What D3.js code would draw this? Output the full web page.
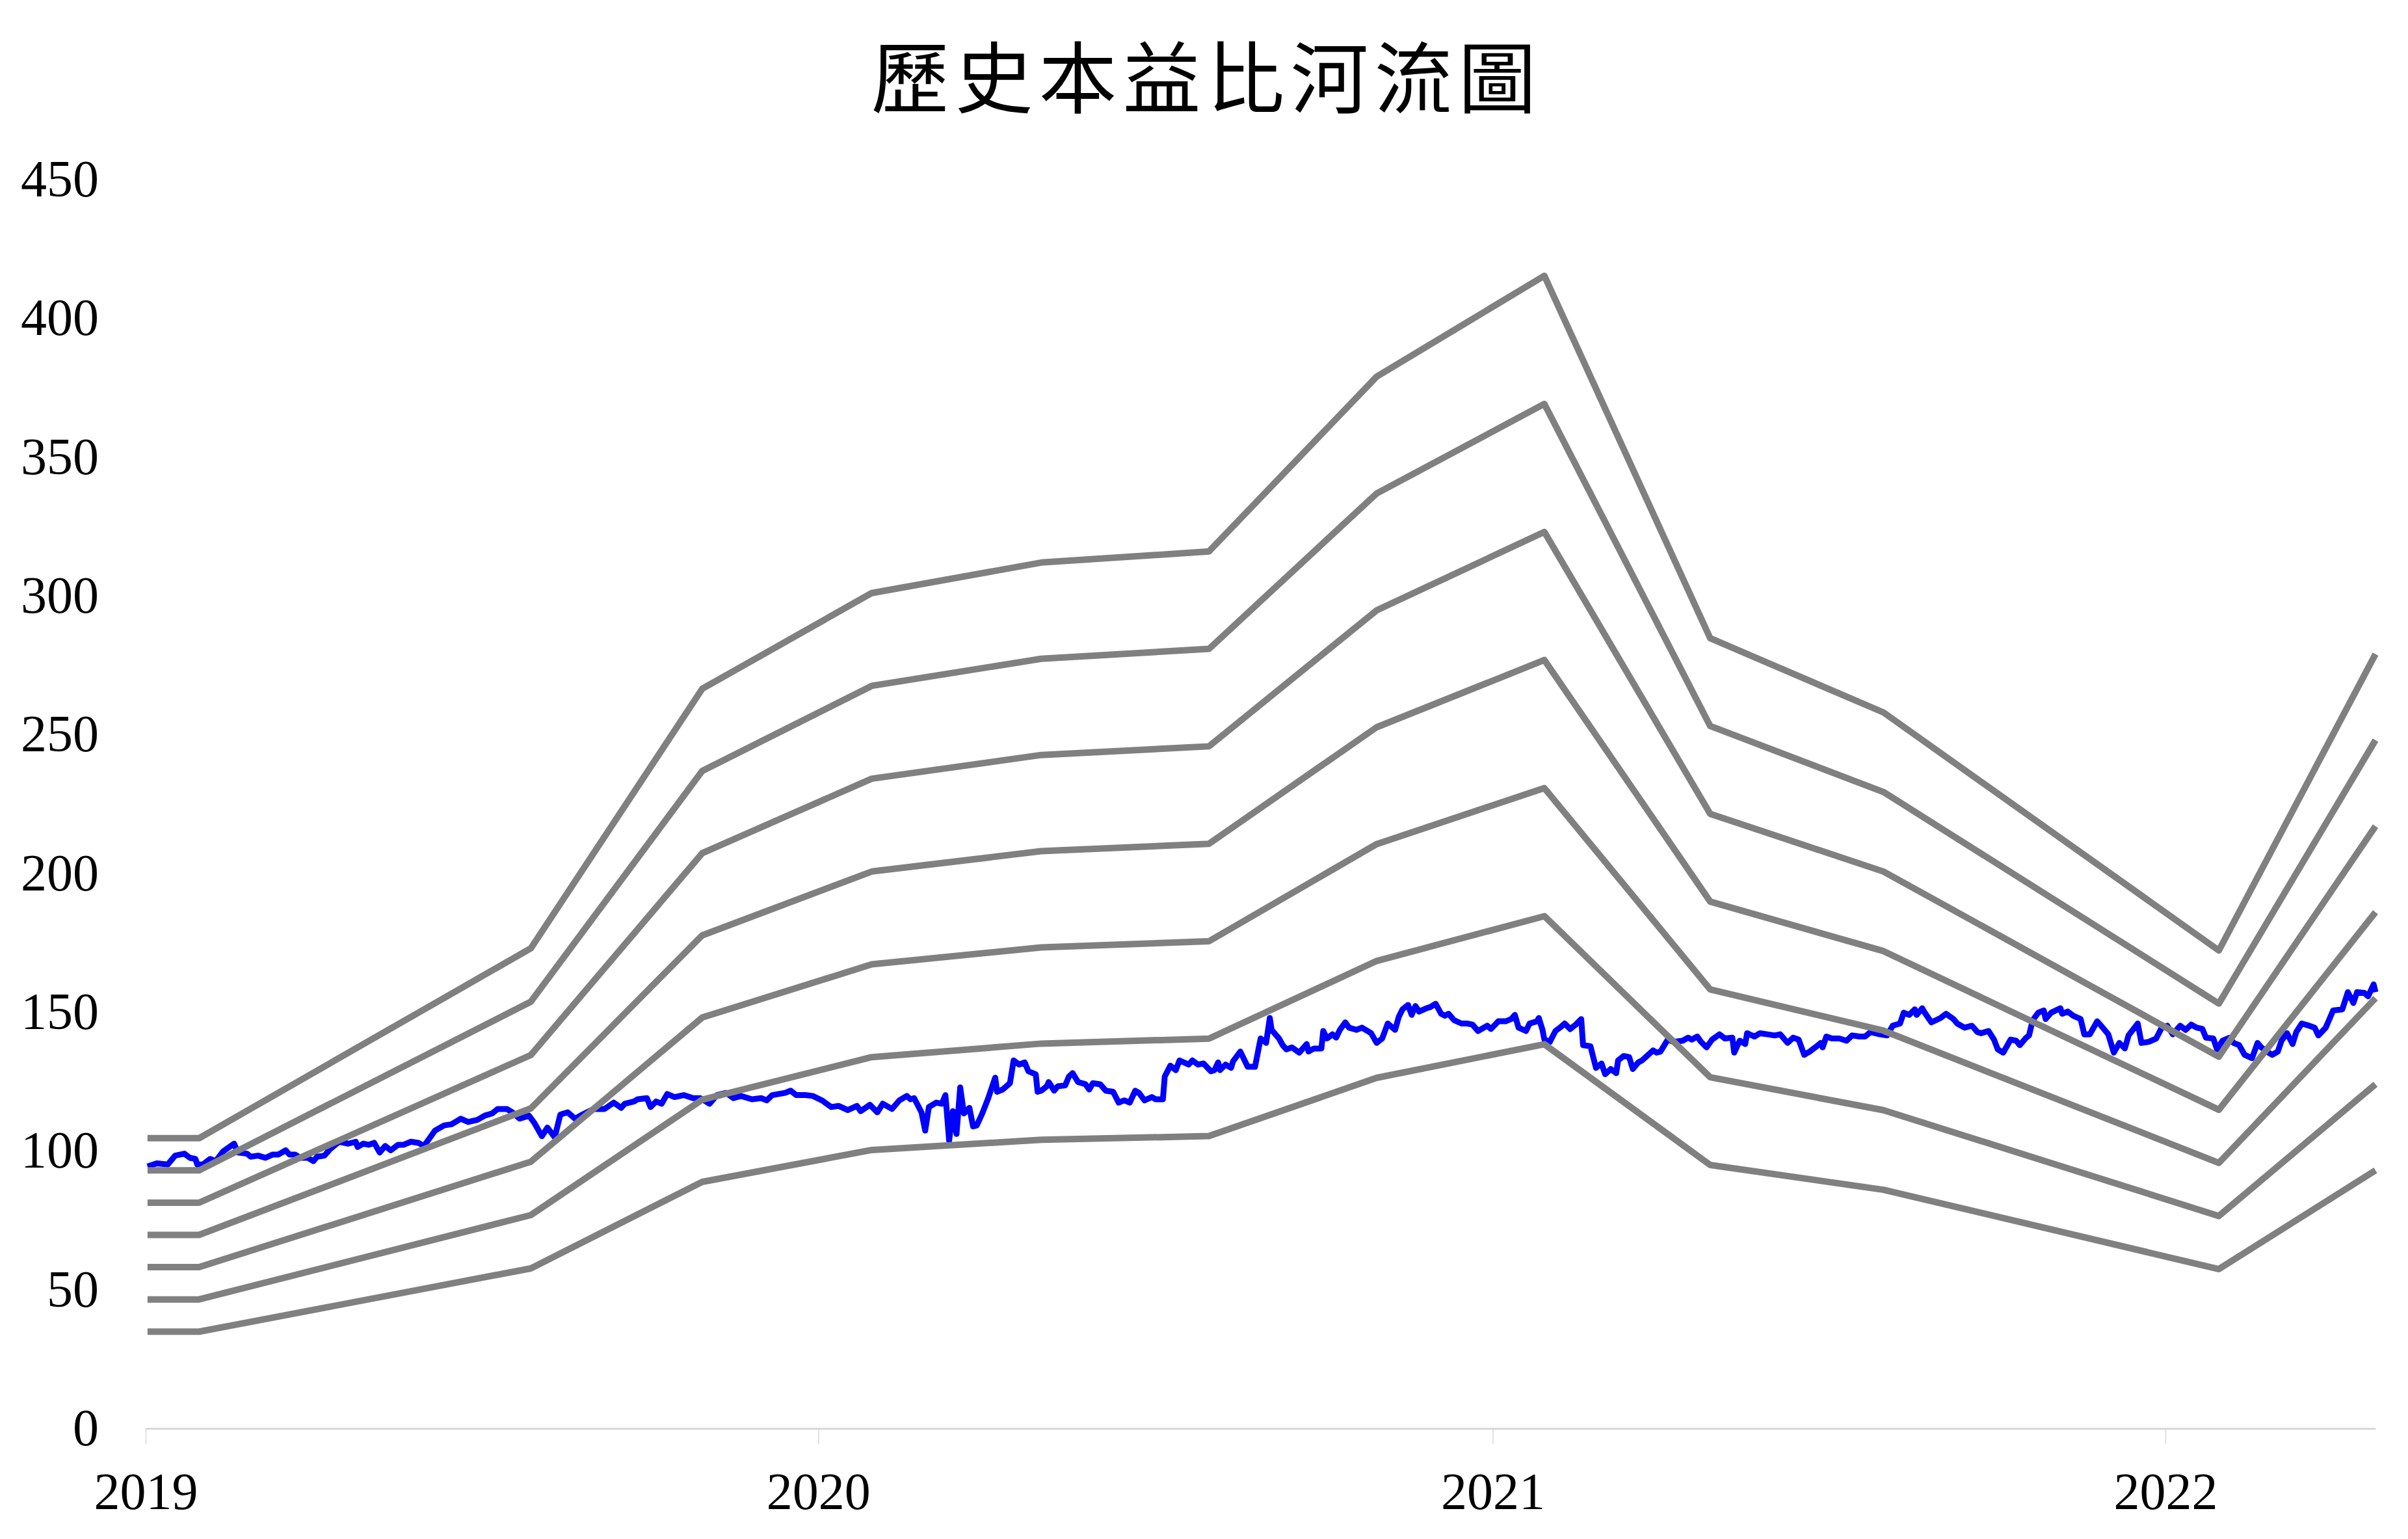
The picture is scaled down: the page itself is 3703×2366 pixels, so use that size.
<!DOCTYPE html>
<html>
<head>
<meta charset="utf-8">
<script src="https://cdn.jsdelivr.net/npm/d3@7"></script>
<style>
html, body { margin: 0; padding: 0; background: #ffffff; }
svg { display: block; }
</style>
</head>
<body>
<svg id="chart" width="3703" height="2366"></svg>
<script>
// ---------------- DATA ----------------
const chartTitle = "歷史本益比河流圖";
const yTickValues = [0, 50, 100, 150, 200, 250, 300, 350, 400, 450];
const xTickLabels = ["2019", "2020", "2021", "2022"];
const xDomain = ["2019-01-01", "2022-04-25"];

// PE multiples of the river bands (bottom to top)
const peMultiples = [15, 20, 25, 30, 35, 40, 45];
// EPS knots used for the bands
const epsDates = ["2019-01-02", "2019-01-30", "2019-07-29", "2019-10-30", "2020-01-30", "2020-05-01",
                  "2020-07-31", "2020-10-30", "2021-01-29", "2021-04-29", "2021-08-01", "2022-01-30", "2022-04-25"];
const epsValues = [2.324, 2.324, 3.844, 5.922, 6.689, 6.933,
                   7.022, 8.422, 9.229, 6.327, 5.733, 3.827, 6.200];

// Price series (date, value)
const priceSeries = [
["2019-01-02",94.4],["2019-01-07",95.5],["2019-01-13",95.1],["2019-01-17",98.3],["2019-01-22",99.0],["2019-01-25",97.5],
["2019-01-28",97.1],["2019-01-29",95.1],["2019-02-01",95.1],["2019-02-05",97.1],["2019-02-08",96.3],["2019-02-12",99.8],
["2019-02-18",102.6],["2019-02-20",99.4],["2019-02-25",99.0],["2019-02-27",97.9],["2019-03-03",98.3],["2019-03-07",97.5],
["2019-03-11",98.7],["2019-03-14",98.7],["2019-03-18",100.2],["2019-03-20",98.7],["2019-03-23",98.7],["2019-03-26",97.5],
["2019-03-30",97.5],["2019-04-02",96.3],["2019-04-04",97.9],["2019-04-08",98.3],["2019-04-11",100.6],["2019-04-16",103.3],
["2019-04-21",102.6],["2019-04-25",103.3],["2019-04-26",101.4],["2019-04-29",102.6],["2019-05-02",102.2],["2019-05-05",102.9],
["2019-05-08",99.4],["2019-05-11",101.8],["2019-05-14",100.2],["2019-05-18",102.2],["2019-05-21",102.2],["2019-05-25",103.3],
["2019-05-29",102.9],["2019-06-01",101.8],["2019-06-04",104.5],["2019-06-07",107.3],["2019-06-12",109.2],["2019-06-16",109.6],
["2019-06-21",111.6],["2019-06-25",110.4],["2019-06-30",111.2],["2019-07-04",112.7],["2019-07-08",113.5],["2019-07-11",115.1],
["2019-07-16",115.1],["2019-07-19",113.9],["2019-07-23",111.6],["2019-07-28",112.7],["2019-07-31",110.0],["2019-08-04",105.3],
["2019-08-07",108.4],["2019-08-11",104.9],["2019-08-14",113.1],["2019-08-18",113.9],["2019-08-22",111.6],["2019-08-26",113.1],
["2019-09-01",115.1],["2019-09-03",115.1],["2019-09-07",115.1],["2019-09-12",117.4],["2019-09-16",115.5],["2019-09-18",117.0],
["2019-09-23",117.8],["2019-09-25",118.6],["2019-09-30",119.0],["2019-10-02",115.8],["2019-10-05",117.8],["2019-10-08",117.0],
["2019-10-11",120.5],["2019-10-15",119.4],["2019-10-20",120.1],["2019-10-25",119.0],["2019-10-29",119.0],["2019-11-03",117.0],
["2019-11-07",120.1],["2019-11-12",120.9],["2019-11-16",119.0],["2019-11-20",119.8],["2019-11-26",118.6],["2019-12-01",119.0],
["2019-12-04",118.2],["2019-12-07",120.1],["2019-12-14",120.9],["2019-12-17",121.7],["2019-12-20",120.1],["2019-12-25",120.1],
["2019-12-29",119.8],["2020-01-03",118.2],["2020-01-08",115.8],["2020-01-12",116.2],["2020-01-17",114.7],["2020-01-22",116.2],
["2020-01-24",114.3],["2020-01-29",116.6],["2020-02-02",113.9],["2020-02-05",117.0],["2020-02-10",115.1],["2020-02-14",118.2],
["2020-02-18",119.8],["2020-02-20",118.6],["2020-02-22",119.0],["2020-02-26",113.9],["2020-02-28",107.3],["2020-03-01",115.8],
["2020-03-05",117.4],["2020-03-08",117.0],["2020-03-10",120.1],["2020-03-12",103.7],["2020-03-14",114.3],["2020-03-16",106.1],
["2020-03-18",122.9],["2020-03-20",113.5],["2020-03-23",115.5],["2020-03-25",108.8],["2020-03-27",109.2],["2020-03-30",113.5],
["2020-04-02",118.6],["2020-04-06",126.4],["2020-04-07",121.3],["2020-04-10",122.1],["2020-04-14",124.4],["2020-04-16",132.6],
["2020-04-19",131.1],["2020-04-22",131.9],["2020-04-24",128.7],["2020-04-28",127.6],["2020-04-29",121.3],["2020-05-01",121.7],
["2020-05-04",123.3],["2020-05-05",124.8],["2020-05-08",121.7],["2020-05-10",123.3],["2020-05-14",123.6],["2020-05-16",126.8],
["2020-05-18",128.0],["2020-05-21",124.8],["2020-05-25",124.0],["2020-05-27",122.1],["2020-05-29",124.4],["2020-06-02",124.0],
["2020-06-05",121.7],["2020-06-09",121.3],["2020-06-12",117.4],["2020-06-15",118.2],["2020-06-18",117.4],["2020-06-21",121.7],
["2020-06-23",120.9],["2020-06-26",118.2],["2020-06-30",119.4],["2020-07-02",118.6],["2020-07-06",118.6],["2020-07-07",126.8],
["2020-07-10",130.7],["2020-07-13",129.1],["2020-07-15",132.6],["2020-07-20",131.1],["2020-07-22",132.6],["2020-07-25",131.1],
["2020-07-28",131.5],["2020-08-01",128.7],["2020-08-03",129.1],["2020-08-05",131.9],["2020-08-06",129.1],["2020-08-09",131.1],
["2020-08-12",129.9],["2020-08-13",132.2],["2020-08-17",135.8],["2020-08-21",130.3],["2020-08-25",130.3],["2020-08-28",140.5],
["2020-08-31",138.9],["2020-09-02",147.9],["2020-09-03",143.6],["2020-09-07",140.5],["2020-09-09",138.1],["2020-09-11",136.6],
["2020-09-14",137.3],["2020-09-18",135.4],["2020-09-22",138.5],["2020-09-23",135.8],["2020-09-26",136.9],["2020-09-30",136.9],
["2020-10-01",143.2],["2020-10-03",140.5],["2020-10-06",142.0],["2020-10-08",140.8],["2020-10-10",143.6],["2020-10-13",146.3],
["2020-10-15",144.4],["2020-10-19",143.6],["2020-10-22",144.4],["2020-10-27",142.4],["2020-10-30",138.9],["2020-11-02",140.5],
["2020-11-05",145.9],["2020-11-09",143.6],["2020-11-11",148.3],["2020-11-13",151.0],["2020-11-16",152.6],["2020-11-18",149.0],
["2020-11-20",152.2],["2020-11-22",150.2],["2020-11-26",151.4],["2020-11-28",151.8],["2020-12-01",153.0],["2020-12-04",149.4],
["2020-12-06",148.7],["2020-12-08",149.4],["2020-12-11",147.1],["2020-12-15",145.9],["2020-12-18",145.9],["2020-12-21",145.5],
["2020-12-24",143.2],["2020-12-29",145.1],["2020-12-31",143.9],["2021-01-04",146.7],["2021-01-08",146.7],["2021-01-11",147.5],
["2021-01-13",149.0],["2021-01-15",144.4],["2021-01-19",143.2],["2021-01-21",145.9],["2021-01-25",146.7],["2021-01-26",147.9],
["2021-01-28",143.6],["2021-01-29",140.1],["2021-02-01",139.3],["2021-02-04",143.2],["2021-02-07",144.7],["2021-02-09",145.9],
["2021-02-12",143.9],["2021-02-15",145.5],["2021-02-18",147.5],["2021-02-19",138.1],["2021-02-23",137.7],["2021-02-26",129.9],
["2021-03-01",131.5],["2021-03-03",127.6],["2021-03-06",129.5],["2021-03-09",128.0],["2021-03-10",132.6],["2021-03-13",134.2],
["2021-03-16",133.8],["2021-03-18",129.5],["2021-03-21",131.9],["2021-03-23",132.6],["2021-03-25",133.8],["2021-03-29",136.2],
["2021-03-31",135.4],["2021-04-02",135.8],["2021-04-06",140.1],["2021-04-09",139.3],["2021-04-14",139.7],["2021-04-17",140.8],
["2021-04-19",140.1],["2021-04-22",141.2],["2021-04-24",139.3],["2021-04-27",137.3],["2021-04-30",140.1],["2021-05-04",142.0],
["2021-05-07",140.5],["2021-05-11",140.8],["2021-05-12",135.4],["2021-05-15",139.7],["2021-05-18",138.5],["2021-05-19",142.4],
["2021-05-23",141.2],["2021-05-26",142.4],["2021-05-30",142.0],["2021-06-03",141.6],["2021-06-06",142.0],["2021-06-10",138.9],
["2021-06-13",140.8],["2021-06-16",140.1],["2021-06-19",134.6],["2021-06-22",135.8],["2021-06-25",137.3],["2021-06-28",138.9],
["2021-06-29",137.3],["2021-07-01",141.2],["2021-07-04",140.5],["2021-07-08",140.5],["2021-07-12",139.7],["2021-07-15",141.6],
["2021-07-19",141.2],["2021-07-22",141.2],["2021-07-25",142.8],["2021-07-30",142.0],["2021-08-03",141.6],["2021-08-06",145.1],
["2021-08-10",145.9],["2021-08-12",149.8],["2021-08-15",149.0],["2021-08-18",151.0],["2021-08-19",149.0],["2021-08-22",151.4],
["2021-08-23",150.2],["2021-08-27",146.3],["2021-09-01",147.9],["2021-09-04",149.4],["2021-09-08",147.5],["2021-09-10",145.9],
["2021-09-14",144.4],["2021-09-18",145.1],["2021-09-21",142.8],["2021-09-23",142.4],["2021-09-27",143.2],["2021-09-30",140.1],
["2021-10-02",136.6],["2021-10-05",135.4],["2021-10-09",140.1],["2021-10-12",139.7],["2021-10-14",138.1],["2021-10-17",140.5],
["2021-10-19",141.6],["2021-10-21",147.1],["2021-10-24",149.8],["2021-10-27",150.6],["2021-10-28",147.5],["2021-10-31",149.8],
["2021-11-05",151.4],["2021-11-06",149.4],["2021-11-09",150.2],["2021-11-12",148.7],["2021-11-16",147.5],["2021-11-18",142.0],
["2021-11-21",142.0],["2021-11-25",146.7],["2021-11-28",144.4],["2021-12-01",142.0],["2021-12-04",135.4],["2021-12-07",138.9],
["2021-12-10",136.9],["2021-12-12",141.6],["2021-12-17",145.9],["2021-12-19",138.9],["2021-12-23",139.3],["2021-12-27",140.5],
["2021-12-30",144.4],["2022-01-02",145.1],["2022-01-05",142.0],["2022-01-09",145.1],["2022-01-12",143.6],["2022-01-15",145.5],
["2022-01-18",144.4],["2022-01-21",144.0],["2022-01-23",140.8],["2022-01-27",140.5],["2022-01-29",136.6],["2022-02-01",139.7],
["2022-02-05",140.8],["2022-02-07",138.9],["2022-02-10",138.1],["2022-02-13",134.6],["2022-02-17",133.4],["2022-02-20",138.9],
["2022-02-22",137.3],["2022-02-26",135.4],["2022-02-28",134.6],["2022-03-03",135.8],["2022-03-05",139.7],["2022-03-08",142.4],
["2022-03-11",138.5],["2022-03-13",142.8],["2022-03-16",145.9],["2022-03-20",145.1],["2022-03-23",144.4],["2022-03-25",141.6],
["2022-03-29",144.4],["2022-03-31",147.5],["2022-04-02",150.6],["2022-04-07",151.0],["2022-04-10",157.2],["2022-04-13",153.3],
["2022-04-15",157.2],["2022-04-19",156.9],["2022-04-21",155.7],["2022-04-24",160.0],["2022-04-25",157.2]
];

// ---------------- CHART ----------------
const W = 3703, H = 2366;
const plot = { left: 224, right: 3653, top: 276, bottom: 2196 };
const parse = d3.timeParse("%Y-%m-%d");
const serif = "'Liberation Serif', 'Times New Roman', 'DejaVu Serif', serif";

const svg = d3.select("#chart");
svg.append("rect").attr("width", W).attr("height", H).attr("fill", "#ffffff");

const x = d3.scaleTime().domain(xDomain.map(parse)).range([plot.left, plot.right]);
const y = d3.scaleLinear().domain([0, 450]).range([plot.bottom, plot.top]);

// Title
svg.append("text")
  .attr("x", W / 2 + 4)
  .attr("y", 165)
  .attr("text-anchor", "middle")
  .attr("font-family", "'Noto Sans CJK TC', 'Noto Sans CJK SC', sans-serif")
  .attr("font-size", 120)
  .attr("letter-spacing", 9)
  .attr("fill", "#000000")
  .text(chartTitle);

// Y axis (labels only)
const yAxis = svg.append("g")
  .attr("transform", `translate(${plot.left},0)`)
  .call(d3.axisLeft(y).tickValues(yTickValues).tickSize(0).tickPadding(72).tickFormat(d3.format("d")));
yAxis.select(".domain").remove();
yAxis.selectAll("text")
  .attr("font-family", serif)
  .attr("font-size", 80)
  .attr("fill", "#000000");

// X axis
const xAxis = svg.append("g")
  .attr("transform", `translate(0,${plot.bottom})`)
  .call(d3.axisBottom(x)
    .tickValues(xTickLabels.map(s => parse(s + "-01-01")))
    .tickSize(24)
    .tickSizeOuter(0)
    .tickPadding(43)
    .tickFormat(d3.timeFormat("%Y")));
xAxis.select(".domain").attr("stroke", "#d9d9d9").attr("stroke-width", 3);
xAxis.selectAll(".tick line").attr("stroke", "#d9d9d9").attr("stroke-width", 1.5);
xAxis.selectAll("text")
  .attr("font-family", serif)
  .attr("font-size", 80)
  .attr("fill", "#000000");

// Lines
const line = d3.line()
  .x(d => x(d.date))
  .y(d => y(d.value));

const price = priceSeries.map(([d, v]) => ({ date: parse(d), value: v }));
svg.append("path")
  .datum(price)
  .attr("fill", "none")
  .attr("stroke", "#0000ff")
  .attr("stroke-width", 9)
  .attr("stroke-linejoin", "round")
  .attr("d", line);

const bands = peMultiples.map(m => epsDates.map((d, i) => ({ date: parse(d), value: epsValues[i] * m })));
svg.append("g").selectAll("path")
  .data(bands)
  .join("path")
  .attr("fill", "none")
  .attr("stroke", "#808080")
  .attr("stroke-width", 10)
  .attr("stroke-linejoin", "round")
  .attr("d", line);
</script>
</body>
</html>
